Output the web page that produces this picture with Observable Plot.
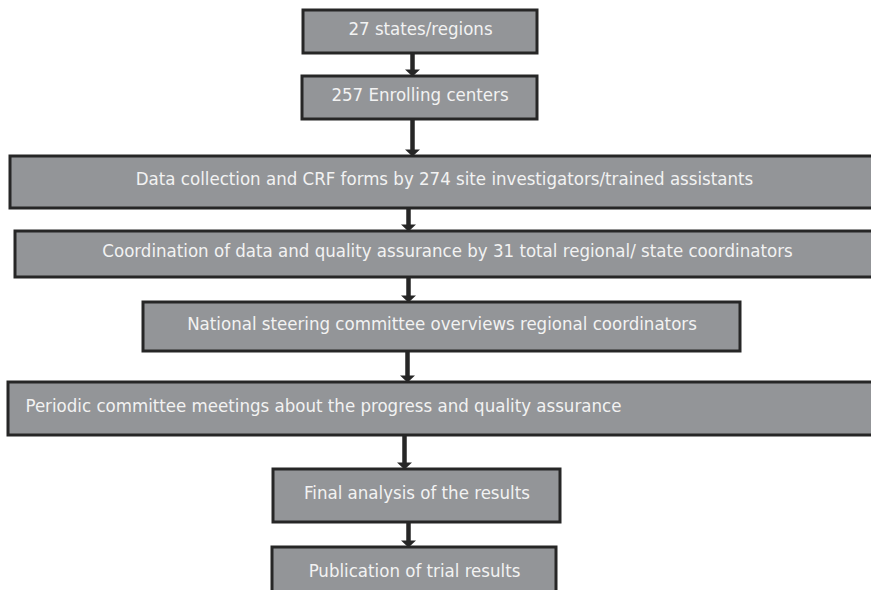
<!DOCTYPE html>
<html>
<head>
<meta charset="utf-8">
<script src="https://cdn.jsdelivr.net/npm/d3@7"></script>
<script src="https://cdn.jsdelivr.net/npm/@observablehq/plot@0.6"></script>
<style>
  html, body { margin: 0; padding: 0; background: #fff; }
</style>
</head>
<body>
<div id="chart"></div>
<script>
// Flowchart steps (top to bottom)
const labels = [
  "27 states/regions",
  "257 Enrolling centers",
  "Data collection and CRF forms by 274 site investigators/trained assistants",
  "Coordination of data and quality assurance by 31 total regional/ state coordinators",
  "National steering committee overviews regional coordinators",
  "Periodic committee meetings about the progress and quality assurance",
  "Final analysis of the results",
  "Publication of trial results"
];
// Box extents (pixels)
const boxLeft   = [303, 302, 10, 15, 143, 8, 273, 272];
const boxRight  = [537, 537, 878, 879, 740, 880, 560, 556];
const boxTop    = [10, 76, 156, 231, 302, 382, 469, 547];
const boxBottom = [53, 119, 208, 277, 351, 435, 522, 600];
const textAlign = ["middle", "middle", "middle", "middle", "middle", "start", "middle", "middle"];
// Arrow x positions between consecutive boxes
const arrowX = [412, 412, 408, 408, 407, 404, 408];

const boxes = labels.map((label, i) => ({
  label, x1: boxLeft[i], x2: boxRight[i], y1: boxTop[i], y2: boxBottom[i],
  anchor: textAlign[i],
  tx: textAlign[i] === "start" ? boxLeft[i] + 17 : (boxLeft[i] + boxRight[i]) / 2,
  ty: (boxTop[i] + boxBottom[i]) / 2 - 3
}));
const arrows = arrowX.map((x, i) => ({
  x, y1: boxBottom[i], y2: boxTop[i + 1] - 6, tip: boxTop[i + 1]
}));

const arrowHead = {
  draw(context) {
    context.moveTo(-7.5, -7);
    context.lineTo(7.5, -7);
    context.lineTo(0, 0);
    context.closePath();
  }
};

const font = "'DejaVu Sans Condensed', 'Liberation Sans Narrow', sans-serif";

const chart = Plot.plot({
  width: 871,
  height: 590,
  margin: 0,
  x: { domain: [0, 871], range: [0, 871], axis: null },
  y: { domain: [0, 590], range: [0, 590], axis: null },
  style: { background: "#fff", fontFamily: font },
  marks: [
    Plot.rect(boxes, { x1: "x1", x2: "x2", y1: "y1", y2: "y2", fill: "#939598", stroke: "#262626", strokeWidth: 3 }),
    Plot.ruleX(arrows, { x: "x", y1: "y1", y2: "y2", stroke: "#262626", strokeWidth: 4.5 }),
    Plot.dot(arrows, { x: "x", y: "tip", symbol: arrowHead, fill: "#262626", stroke: null }),
    Plot.text(boxes.filter(d => d.anchor === "middle"), { x: "tx", y: "ty", text: "label", textAnchor: "middle", fill: "#f2f2f2", fontSize: 18.5, fontFamily: font }),
    Plot.text(boxes.filter(d => d.anchor === "start"), { x: "tx", y: "ty", text: "label", textAnchor: "start", fill: "#f2f2f2", fontSize: 18.5, fontFamily: font })
  ]
});
document.getElementById("chart").appendChild(chart);
</script>
</body>
</html>
